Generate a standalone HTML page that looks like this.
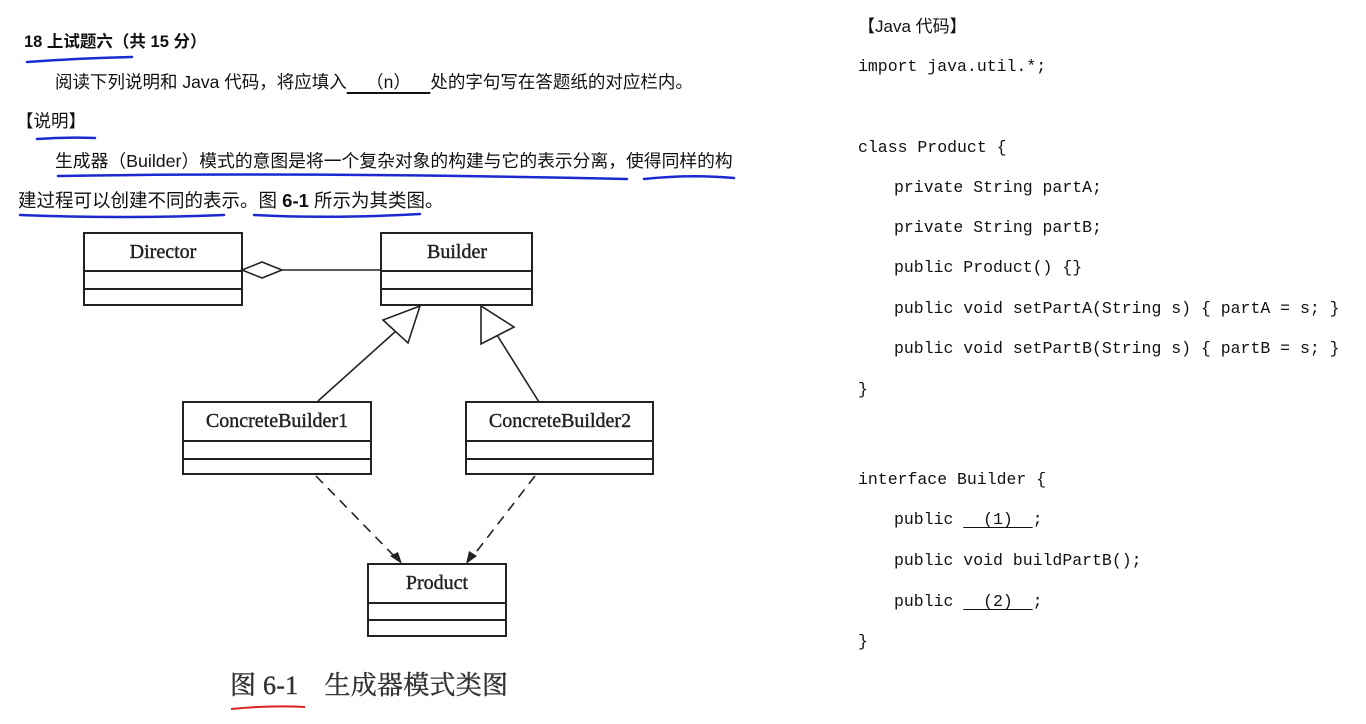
<!DOCTYPE html>
<html><head><meta charset="utf-8">
<style>
body{margin:0;width:1366px;height:724px;background:#fff;position:relative;overflow:hidden;font-family:"Liberation Sans","Noto Sans CJK SC",sans-serif;color:#111}
.t{position:absolute;white-space:nowrap;line-height:24px}
.c{position:absolute;white-space:nowrap;font-family:"Liberation Mono",monospace;font-size:16.5px;line-height:22px;color:#111}
.u{text-decoration:underline;text-underline-offset:3px}
</style></head><body>
<div class="t" style="left:24px;top:30px;font-size:16.5px;font-weight:bold">18 上试题六（共 15 分）</div>
<div class="t" style="left:55px;top:70px;font-size:17.5px">阅读下列说明和 Java 代码，将应填入<span style="text-decoration:underline;text-decoration-thickness:2px;text-underline-offset:4px">&nbsp;&nbsp;&nbsp;&nbsp;（n）&nbsp;&nbsp;&nbsp;&nbsp;</span>处的字句写在答题纸的对应栏内。</div>
<div class="t" style="left:16px;top:109px;font-size:17.5px">【说明】</div>
<div class="t" style="left:55px;top:149px;font-size:17.8px">生成器（Builder）模式的意图是将一个复杂对象的构建与它的表示分离，使得同样的构</div>
<div class="t" style="left:18px;top:189px;font-size:18.5px">建过程可以创建不同的表示。图 <b>6-1</b> 所示为其类图。</div>

<svg width="1366" height="724" style="position:absolute;left:0;top:0">
<g stroke="#1a2ad0" stroke-width="2.5" fill="none" stroke-linecap="round">
<path d="M27 62 Q80 58 132 57"/>
<path d="M37 139 Q65 137 95 138"/>
<path d="M58 176 Q300 172 627 179"/>
<path d="M644 179 Q690 174 734 178"/>
<path d="M20 215 Q120 219 224 215"/>
<path d="M254 215 Q330 219 420 214"/>
</g>
<path d="M231 709 Q270 705 305 707" stroke="#d22" stroke-width="2" fill="none"/>
<g stroke="#222" stroke-width="2" fill="#fff">
<rect x="84" y="233" width="158" height="72"/><line x1="84" y1="271" x2="242" y2="271"/><line x1="84" y1="289" x2="242" y2="289"/>
<rect x="381" y="233" width="151" height="72"/><line x1="381" y1="271" x2="532" y2="271"/><line x1="381" y1="289" x2="532" y2="289"/>
<rect x="183" y="402" width="188" height="72"/><line x1="183" y1="441" x2="371" y2="441"/><line x1="183" y1="459" x2="371" y2="459"/>
<rect x="466" y="402" width="187" height="72"/><line x1="466" y1="441" x2="653" y2="441"/><line x1="466" y1="459" x2="653" y2="459"/>
<rect x="368" y="564" width="138" height="72"/><line x1="368" y1="603" x2="506" y2="603"/><line x1="368" y1="620" x2="506" y2="620"/>
</g>
<g stroke="#222" stroke-width="1.6" fill="none">
<line x1="282" y1="270" x2="381" y2="270"/>
<polygon points="242,270 262,262 282,270 262,278" fill="#fff"/>
<line x1="318" y1="401" x2="396" y2="331"/>
<polygon points="420,306 383,320 408,343" fill="#fff"/>
<line x1="539" y1="402" x2="497" y2="335"/>
<polygon points="481,306 481,344 514,327" fill="#fff"/>
<line x1="316" y1="476" x2="398" y2="560" stroke-dasharray="10,7"/>
<line x1="535" y1="476" x2="470" y2="560" stroke-dasharray="10,7"/>
</g>
<g fill="#222">
<polygon points="402,564 390,556 398,552"/>
<polygon points="466,564 469,551 477,556"/>
</g>
<g font-family="Liberation Serif,serif" font-size="20" fill="#222" stroke="#222" stroke-width="0.4" text-anchor="middle">
<text x="163" y="258">Director</text>
<text x="457" y="258">Builder</text>
<text x="277" y="427">ConcreteBuilder1</text>
<text x="560" y="427">ConcreteBuilder2</text>
<text x="437" y="589">Product</text>
</g>
<text x="230" y="694" font-family="Liberation Serif,Noto Serif CJK SC,serif" font-size="26" fill="#333" stroke="#333" stroke-width="0.4" textLength="278">图 6-1　生成器模式类图</text>
</svg>

<div class="t" style="left:858px;top:15px;font-size:17px">【Java 代码】</div>
<div class="c" style="left:858px;top:56px">import java.util.*;</div>
<div class="c" style="left:858px;top:137px">class Product {</div>
<div class="c" style="left:894px;top:177px">private String partA;</div>
<div class="c" style="left:894px;top:217px">private String partB;</div>
<div class="c" style="left:894px;top:257px">public Product() {}</div>
<div class="c" style="left:894px;top:298px">public void setPartA(String s) { partA = s; }</div>
<div class="c" style="left:894px;top:338px">public void setPartB(String s) { partB = s; }</div>
<div class="c" style="left:858px;top:379px">}</div>
<div class="c" style="left:858px;top:469px">interface Builder {</div>
<div class="c" style="left:894px;top:509px">public <span class="u">&nbsp;&nbsp;(1)&nbsp;&nbsp;</span>;</div>
<div class="c" style="left:894px;top:550px">public void buildPartB();</div>
<div class="c" style="left:894px;top:591px">public <span class="u">&nbsp;&nbsp;(2)&nbsp;&nbsp;</span>;</div>
<div class="c" style="left:858px;top:631px">}</div>
</body></html>
